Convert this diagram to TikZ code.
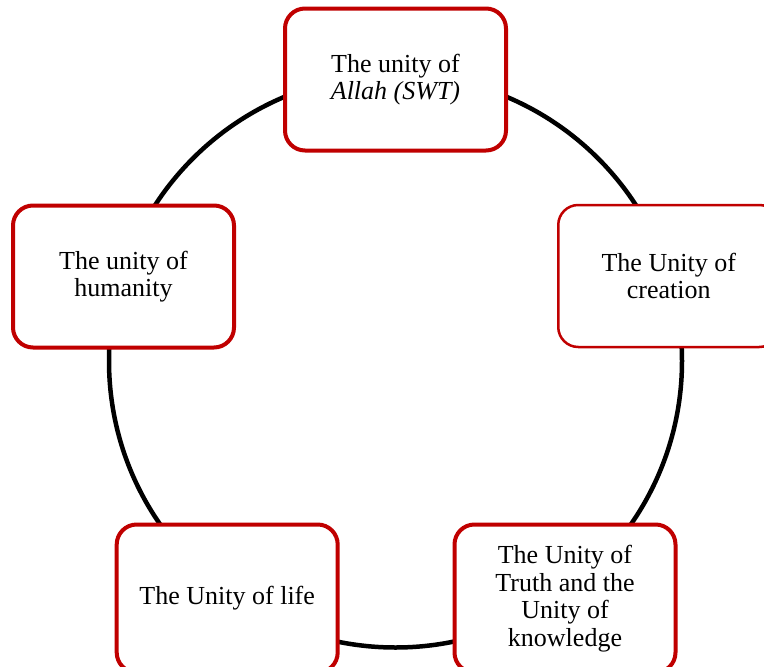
\documentclass[tikz,border=0pt]{standalone}
\usepackage{fontspec}
\setmainfont{Liberation Serif}
\definecolor{boxred}{HTML}{C00000}
\begin{document}
\begin{tikzpicture}[x=1pt,y=-1pt,
  ring/.style={draw=black,line width=4.5pt},
  unitbox/.style={draw=boxred,fill=white,line width=4pt,rounded corners=20pt,
    minimum width=221pt,minimum height=142pt,inner sep=0pt,align=center,
    font=\fontsize{26}{27.5}\selectfont},
  thinbox/.style={unitbox,line width=2.5pt},
  lowbox/.style={unitbox,minimum height=148pt}]
\useasboundingbox (0,0) rectangle (764,667);
\clip (0,0) rectangle (764,667);
\fill[white] (0,0) rectangle (764,667);
\coordinate (c) at (395.5,361);
\draw[ring] (c) circle (286.5);
\node[unitbox] (allah) at (395.5,79.5) {The unity of\\\textit{Allah (SWT)}};
\node[thinbox] (creation) at (668.75,276) {The Unity of\\creation};
\node[unitbox] (humanity) at (123.5,276.5) {The unity of\\humanity};
\node[lowbox] (life) at (227.2,598.5) {The Unity of life};
\node[lowbox] (truth) at (565,598.5) {The Unity of\\Truth and the\\Unity of\\knowledge};
\end{tikzpicture}
\end{document}
